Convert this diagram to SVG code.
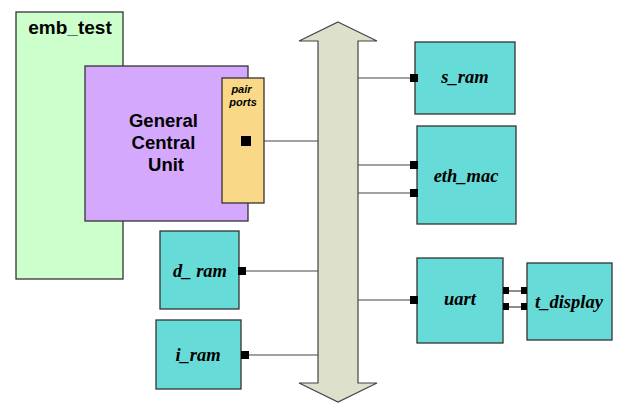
<svg xmlns="http://www.w3.org/2000/svg" width="617" height="403" viewBox="0 0 617 403">
  <style>
    .box { stroke: #333; stroke-width: 1.3; }
    .blk { fill: #66dbd8; }
    .lbl { font-family: "Liberation Serif", "Times New Roman", serif; font-style: italic; font-weight: bold; font-size: 18.5px; fill: #000; text-anchor: middle; }
    .sans { font-family: "Liberation Sans", Arial, sans-serif; font-weight: bold; fill: #000; }
    .wire { stroke: #444; stroke-width: 1.2; fill: none; }
    .port { fill: #000; }
  </style>
  <rect width="617" height="403" fill="#fff"/>

  <!-- connectors -->
  <g id="connectors">
    <line class="wire" x1="250" y1="141" x2="319" y2="141"/>
    <line class="wire" x1="245" y1="271" x2="319" y2="271"/>
    <line class="wire" x1="248" y1="355" x2="319" y2="355"/>
    <line class="wire" x1="357" y1="78" x2="411" y2="78"/>
    <line class="wire" x1="357" y1="165" x2="411" y2="165"/>
    <line class="wire" x1="357" y1="193" x2="411" y2="193"/>
    <line class="wire" x1="357" y1="300" x2="411" y2="300"/>
    <line class="wire" x1="509" y1="291" x2="522" y2="291"/>
    <line class="wire" x1="509" y1="307" x2="522" y2="307"/>
  </g>

  <!-- system bus -->
  <g id="bus">
    <path d="M338,22 L377,41 L358,41 L358,383 L377,383 L338,402 L299,383 L318,383 L318,41 L299,41 Z" fill="#dde1cc" stroke="#444" stroke-width="1.2"/>
  </g>

  <g id="emb_test">
    <rect class="box" x="16" y="12" width="107" height="267" fill="#ccffcc"/>
    <text class="sans" x="70" y="34" font-size="19" text-anchor="middle">emb_test</text>
  </g>

  <g id="gcu">
    <rect class="box" x="85" y="66" width="163" height="155" fill="#d4a8fc"/>
    <text class="sans" font-size="18.5" text-anchor="middle">
      <tspan x="166" y="127">General</tspan>
      <tspan x="166" y="149">Central</tspan>
      <tspan x="166" y="171">Unit</tspan>
    </text>
  </g>

  <g id="pair_ports">
    <rect class="box" x="222" y="78" width="42" height="125" fill="#f9d888"/>
    <text font-family="Liberation Sans, Arial, sans-serif" font-style="italic" font-weight="bold" font-size="11" text-anchor="middle" fill="#000">
      <tspan x="243" y="93">pair</tspan>
      <tspan x="243" y="106">ports</tspan>
    </text>
    <rect class="port" x="241" y="136" width="10" height="10"/>
  </g>

  <g id="s_ram">
    <rect class="box blk" x="415" y="42" width="100" height="72"/>
    <text class="lbl" x="465" y="83">s_ram</text>
    <rect class="port" x="410" y="74" width="8" height="8"/>
  </g>

  <g id="eth_mac">
    <rect class="box blk" x="417" y="126" width="99" height="98"/>
    <text class="lbl" x="466" y="182">eth_mac</text>
    <rect class="port" x="410" y="161" width="8" height="8"/>
    <rect class="port" x="410" y="189" width="8" height="8"/>
  </g>

  <g id="d_ram">
    <rect class="box blk" x="160" y="231" width="79" height="78"/>
    <text class="lbl" x="200" y="277">d_ ram</text>
    <rect class="port" x="238" y="267" width="8" height="8"/>
  </g>

  <g id="i_ram">
    <rect class="box blk" x="156" y="320" width="85" height="69"/>
    <text class="lbl" x="198" y="361">i_ram</text>
    <rect class="port" x="241" y="351" width="8" height="8"/>
  </g>

  <g id="uart">
    <rect class="box blk" x="417" y="258" width="86" height="85"/>
    <text class="lbl" x="460" y="305">uart</text>
    <rect class="port" x="410" y="296" width="8" height="8"/>
    <rect class="port" x="503" y="287" width="6" height="7"/>
    <rect class="port" x="503" y="303" width="6" height="7"/>
  </g>

  <g id="t_display">
    <rect class="box blk" x="527" y="263" width="85" height="77"/>
    <text class="lbl" x="569" y="308">t_display</text>
    <rect class="port" x="521" y="287" width="6" height="7"/>
    <rect class="port" x="521" y="303" width="6" height="7"/>
  </g>
</svg>
